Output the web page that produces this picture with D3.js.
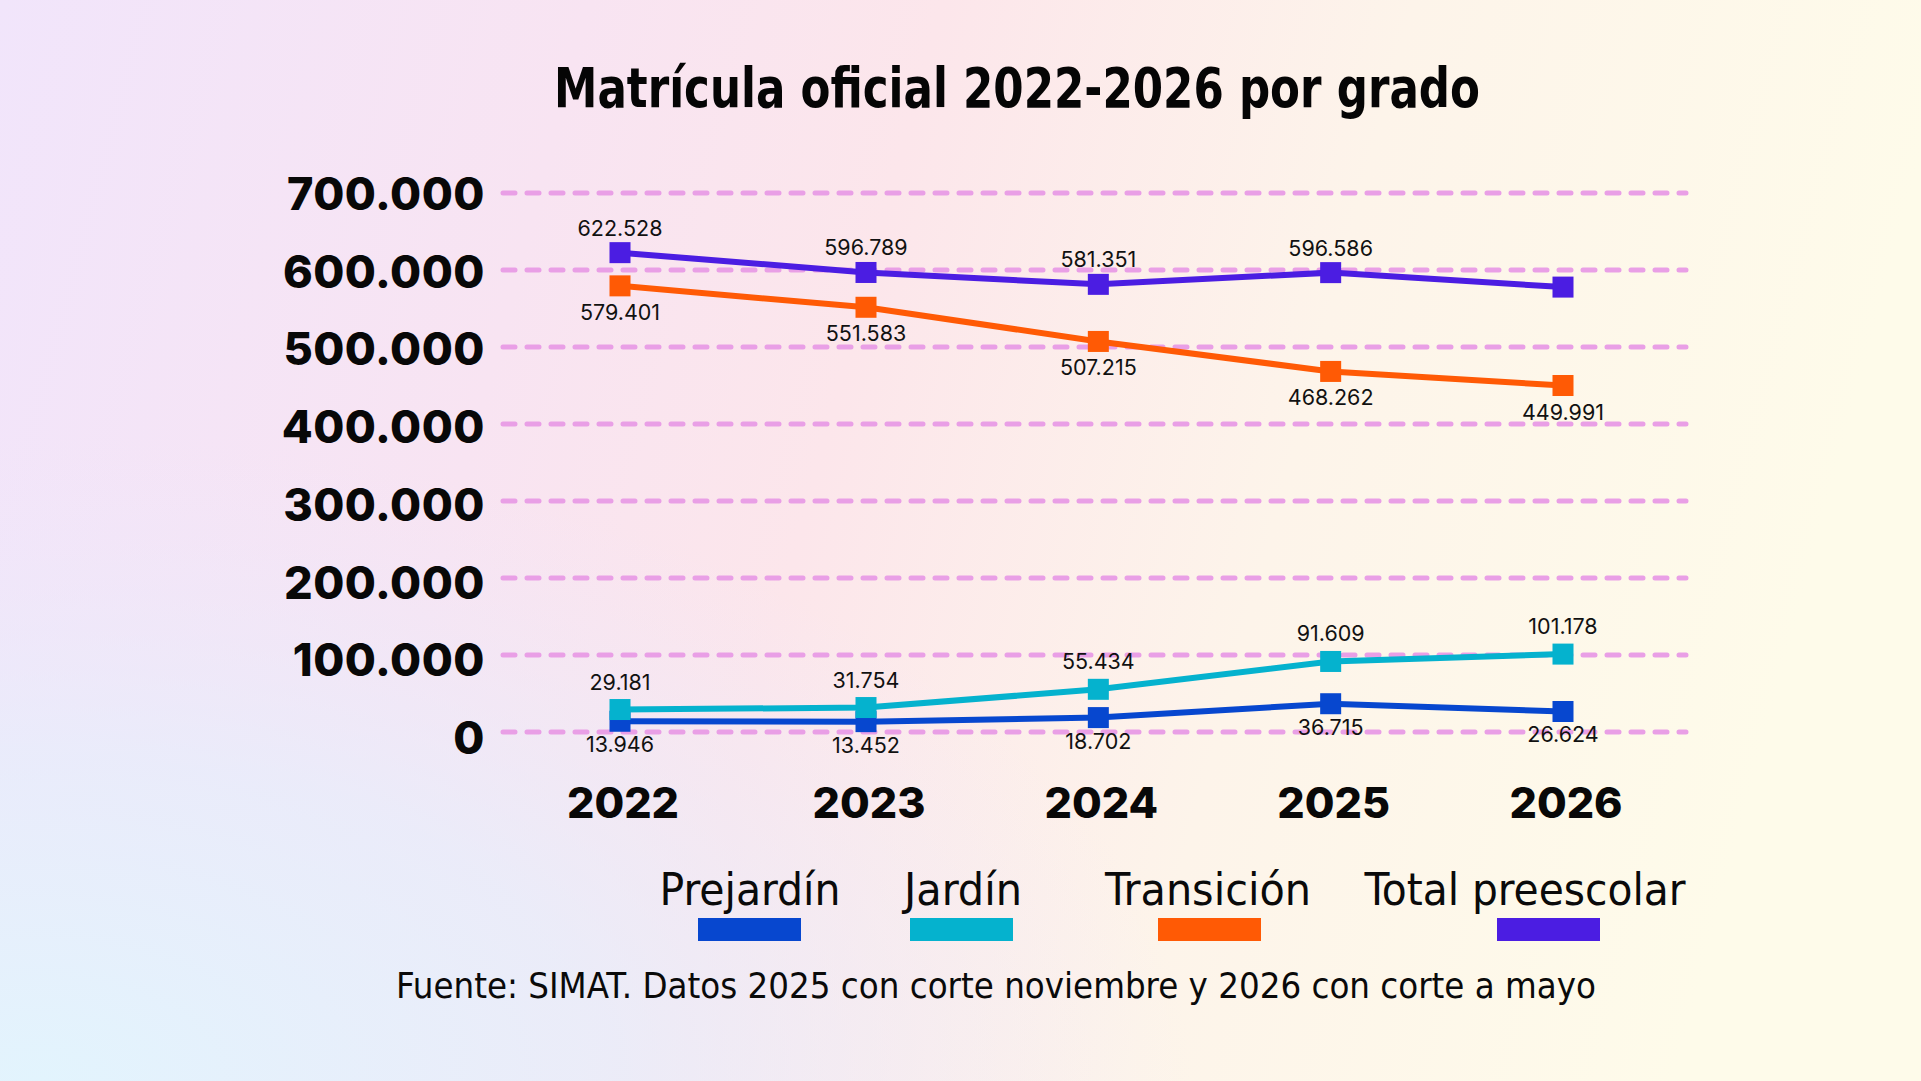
<!DOCTYPE html>
<html>
<head>
<meta charset="utf-8">
<script src="https://cdn.jsdelivr.net/npm/d3@7"></script>
<style>
    html, body { margin: 0; padding: 0; overflow: hidden; }
    svg { display: block; }
</style>
</head>
<body>
<svg id="chart" width="1921" height="1081"></svg>
<script>
// datos
const years = [2022, 2023, 2024, 2025, 2026];
const prejardin = [13946, 13452, 18702, 36715, 26624];
const jardin = [29181, 31754, 55434, 91609, 101178];
const transicion = [579401, 551583, 507215, 468262, 449991];
const totalPreescolar = [622528, 596789, 581351, 596586, 577793];
const totalShown = [true, true, true, true, false];
const yTicks = [0, 100000, 200000, 300000, 400000, 500000, 600000, 700000];

const seriesNames = ["Prejardín", "Jardín", "Transición", "Total preescolar"];
const seriesColors = ["#0747CF", "#05B2CE", "#FF5A05", "#4B1DE2"];

const svg = d3.select("#chart");
const W = 1921, H = 1081;

// fondo degradado
const defs = svg.append("defs");
const bg = defs.append("linearGradient").attr("id", "bg")
    .attr("x1", 0).attr("y1", 0).attr("x2", 1).attr("y2", 0.15);
[["0%", "#F1E5FB"], ["30%", "#F8E4F2"], ["48%", "#FCE6EB"], ["72%", "#FDF4EA"], ["100%", "#FEFBEA"]]
    .forEach(([o, c]) => bg.append("stop").attr("offset", o).attr("stop-color", c));
const glow = defs.append("radialGradient").attr("id", "glow")
    .attr("cx", 0.02).attr("cy", 1).attr("r", 0.6);
glow.append("stop").attr("offset", "0%").attr("stop-color", "#E2F4FD").attr("stop-opacity", 1);
glow.append("stop").attr("offset", "50%").attr("stop-color", "#E6EEFC").attr("stop-opacity", 0.75);
glow.append("stop").attr("offset", "100%").attr("stop-color", "#EEE8FB").attr("stop-opacity", 0);

svg.append("rect").attr("width", W).attr("height", H).attr("fill", "url(#bg)");
svg.append("rect").attr("width", W).attr("height", H).attr("fill", "url(#glow)");

const boldFont = "Inter, 'DejaVu Sans', sans-serif";
const condFont = "'DejaVu Sans Condensed', 'Liberation Sans Narrow', sans-serif";

// título
svg.append("text")
    .attr("x", 1017).attr("y", 107)
    .attr("text-anchor", "middle")
    .attr("textLength", 926)
    .attr("lengthAdjust", "spacingAndGlyphs")
    .style("font-family", condFont)
    .style("font-weight", 700)
    .style("font-size", "55px")
    .style("fill", "#050505")
    .text("Matrícula oficial 2022-2026 por grado");

// escala x por tramos: el original no espacia los años por igual
const x = d3.scaleLinear().domain([2022, 2023, 2026]).range([620, 866, 1563]);
const y = d3.scaleLinear().domain([0, 700000]).range([732, 193]);
const fmt = d3.formatLocale({ decimal: ",", thousands: ".", grouping: [3], currency: ["", ""] }).format(",d");

// líneas guía
svg.append("g").selectAll("line")
    .data(yTicks)
    .enter()
    .append("line")
    .attr("x1", 503).attr("x2", 1686)
    .attr("y1", d => y(d)).attr("y2", d => y(d))
    .attr("stroke", "#E99FE6")
    .attr("stroke-width", 5)
    .attr("stroke-linecap", "round")
    .attr("stroke-dasharray", "12 12");

// eje y
svg.append("g").selectAll("text")
    .data(yTicks)
    .enter()
    .append("text")
    .attr("x", 485)
    .attr("y", d => y(d) + 17 + (700000 - d) / 700000 * 5)
    .attr("text-anchor", "end")
    .style("font-family", boldFont)
    .style("font-weight", 800)
    .style("font-size", "45px")
    .style("letter-spacing", "0.5px")
    .style("fill", "#080808")
    .text(d => fmt(d));

// eje x
svg.append("g").selectAll("text")
    .data(years)
    .enter()
    .append("text")
    .attr("x", d => x(d) + 3)
    .attr("y", 818)
    .attr("text-anchor", "middle")
    .style("font-family", boldFont)
    .style("font-weight", 800)
    .style("font-size", "43px")
    .style("fill", "#080808")
    .text(d => d);

const series = [
    { values: prejardin, color: seriesColors[0], dy: 31, shown: years.map(() => true) },
    { values: jardin, color: seriesColors[1], dy: -20, shown: years.map(() => true) },
    { values: transicion, color: seriesColors[2], dy: 34, shown: years.map(() => true) },
    { values: totalPreescolar, color: seriesColors[3], dy: -17, shown: totalShown }
];

const line = d3.line()
    .x((d, i) => x(years[i]))
    .y(d => y(d));

const marker = 21;

series.forEach(s => {
    const g = svg.append("g");

    g.append("path")
        .datum(s.values)
        .attr("d", line)
        .attr("fill", "none")
        .attr("stroke", s.color)
        .attr("stroke-width", 6);

    g.selectAll("rect")
        .data(s.values)
        .enter()
        .append("rect")
        .attr("x", (d, i) => x(years[i]) - marker / 2)
        .attr("y", d => y(d) - marker / 2)
        .attr("width", marker)
        .attr("height", marker)
        .attr("fill", s.color);

    g.selectAll("text")
        .data(s.values.map((v, i) => ({ v, i })).filter(d => s.shown[d.i]))
        .enter()
        .append("text")
        .attr("x", d => x(years[d.i]))
        .attr("y", d => y(d.v) + s.dy)
        .attr("text-anchor", "middle")
        .style("font-family", boldFont)
        .style("font-size", "21.5px")
        .style("fill", "#111")
        .text(d => fmt(d.v));
});

// leyenda
const legendText = [[750, 181], [963, 118], [1208, 206], [1525, 321]];
const legendSwatch = [698, 910, 1158, 1497];

seriesNames.forEach((name, i) => {
    svg.append("text")
        .attr("x", legendText[i][0]).attr("y", 905)
        .attr("text-anchor", "middle")
        .attr("textLength", legendText[i][1])
        .attr("lengthAdjust", "spacingAndGlyphs")
        .style("font-family", condFont)
        .style("font-size", "45px")
        .style("fill", "#0a0a0a")
        .text(name);

    svg.append("rect")
        .attr("x", legendSwatch[i]).attr("y", 918)
        .attr("width", 103).attr("height", 23)
        .attr("fill", seriesColors[i]);
});

// fuente
svg.append("text")
    .attr("x", 996).attr("y", 998)
    .attr("text-anchor", "middle")
    .attr("textLength", 1200)
    .attr("lengthAdjust", "spacingAndGlyphs")
    .style("font-family", condFont)
    .style("font-weight", 500)
    .style("font-size", "35px")
    .style("fill", "#0a0a0a")
    .text("Fuente: SIMAT. Datos 2025 con corte noviembre y 2026 con corte a mayo");
</script>
</body>
</html>
